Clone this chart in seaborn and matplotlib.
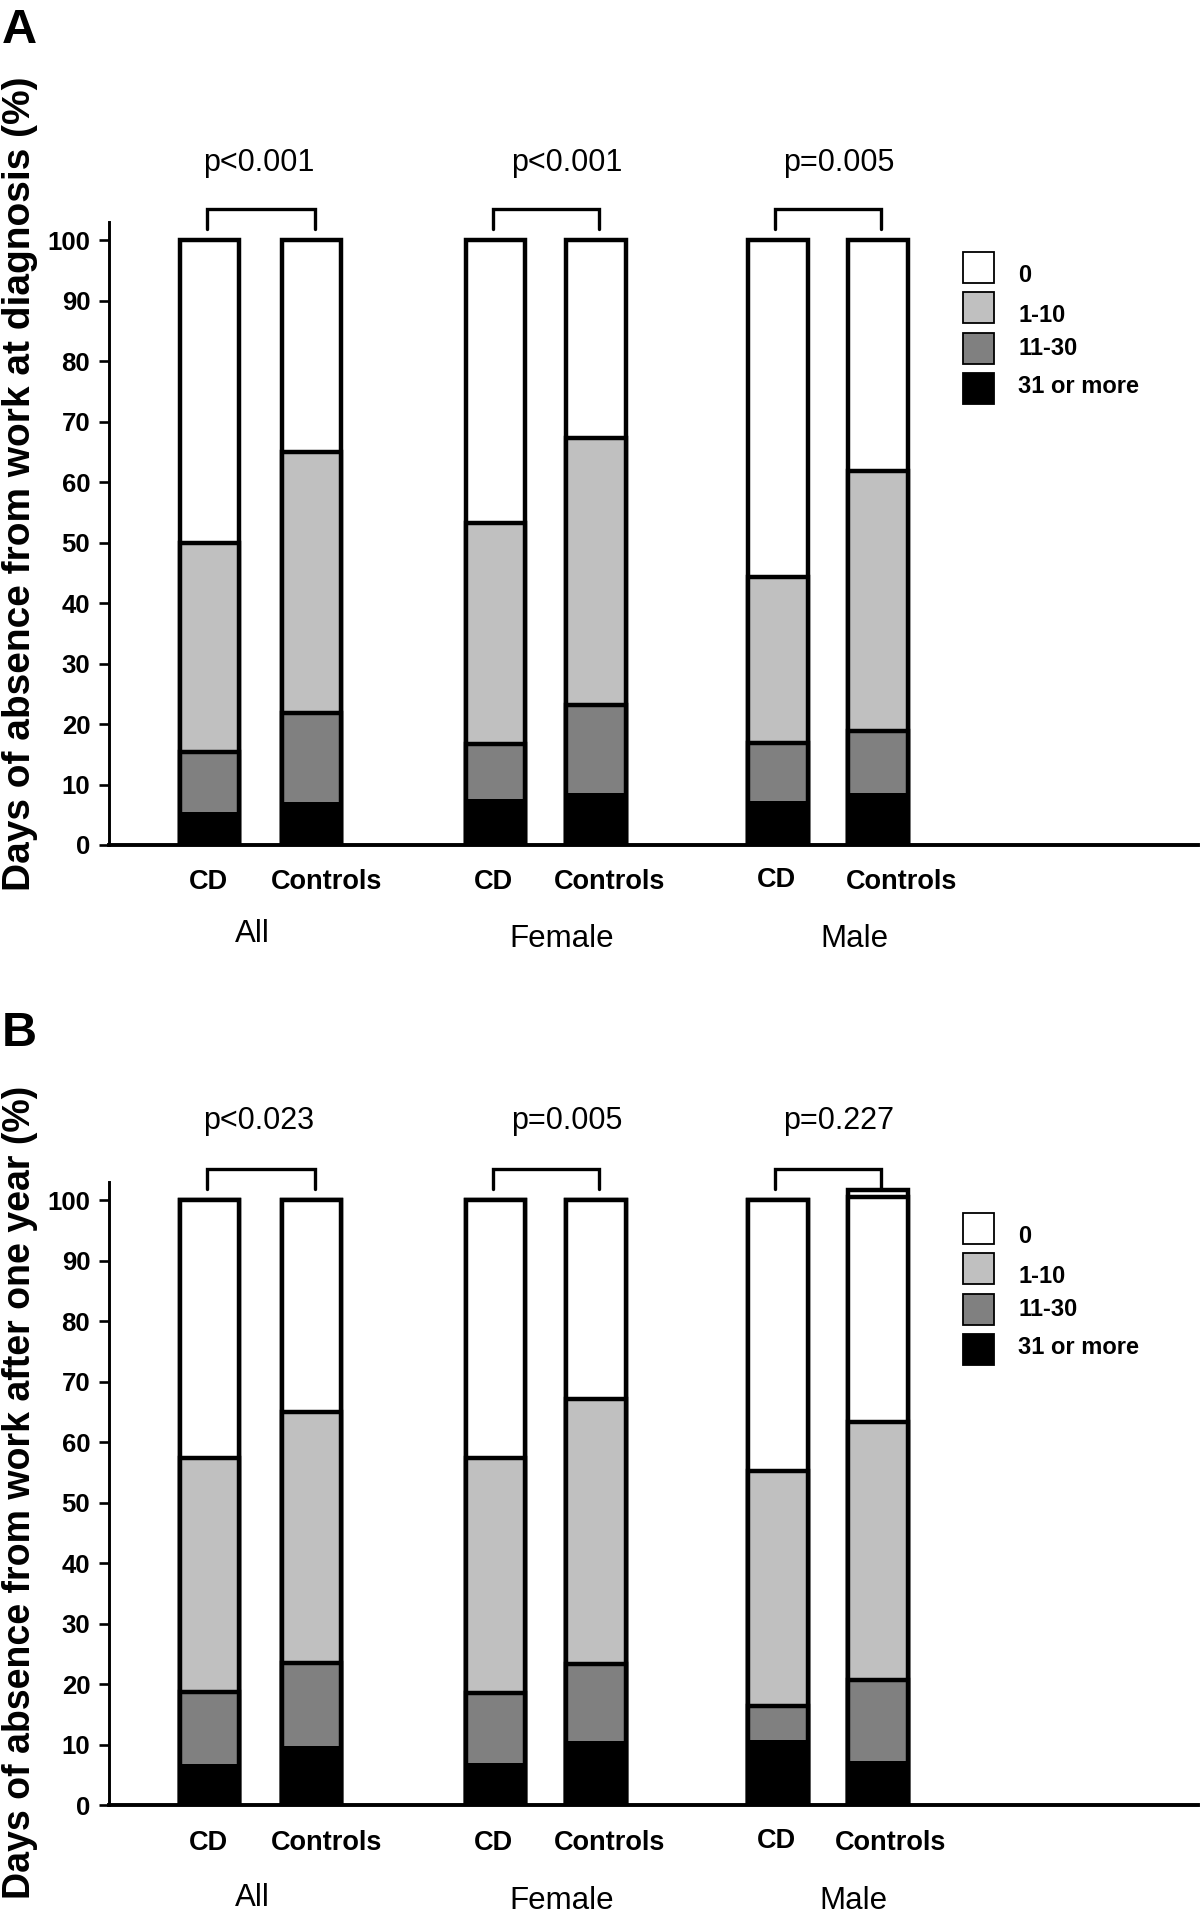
import numpy as np
import pandas as pd
import matplotlib
matplotlib.use("Agg")
import matplotlib.pyplot as plt
import seaborn as sns
from matplotlib.patches import Rectangle

# ---------------- data ----------------
groups = ["All", "Female", "Male"]
bar_labels = ["CD", "Controls", "CD", "Controls", "CD", "Controls"]
legend_labels = ["0", "1-10", "11-30", "31 or more"]

# Panel A: days of absence at diagnosis (% per bar), segments bottom -> top
a_31plus = [5.4, 7.1, 7.6, 8.6, 7.3, 8.6]
a_11_30 = [10.0, 14.7, 9.1, 14.5, 9.6, 10.2]
a_1_10 = [34.6, 43.2, 36.6, 44.2, 27.4, 43.0]
a_0 = [50.0, 35.0, 46.7, 32.7, 55.7, 38.2]
a_pvalues = ["p<0.001", "p<0.001", "p=0.005"]

# Panel B: days of absence after one year (% per bar)
b_31plus = [6.8, 9.7, 6.9, 10.5, 10.8, 7.3]
b_11_30 = [11.8, 13.8, 11.6, 12.8, 5.6, 13.3]
b_1_10 = [38.8, 41.5, 38.8, 43.9, 38.8, 42.8]
b_0 = [42.6, 35.0, 42.7, 32.8, 44.8, 37.1]
b_extra = [0.0, 0.0, 0.0, 0.0, 0.0, 1.2]
b_pvalues = ["p<0.023", "p=0.005", "p=0.227"]

yticks = list(range(0, 101, 10))

# ---------------- layout ----------------
W, H = 1200, 1917
BAR_X = [209.6, 311.6, 495.5, 595.8, 777.8, 878.0]   # bar centres (axis x in px-like units)
COLORS = ["#000000", "#808080", "#c0c0c0", "#ffffff", "#ffffff"]
LEG_COLORS = ["#ffffff", "#c0c0c0", "#808080", "#000000"]
LEG_TEXT_OFF = [30, 30, 22, 20]
FONT = "Liberation Sans"

sns.set_theme(style="ticks")
plt.rcParams["font.family"] = [FONT, "DejaVu Sans"]

fig = plt.figure(figsize=(W / 100, H / 100), dpi=100)


def fx(x):
    return x / W


def fy(y):
    return 1 - y / H


def draw_panel(y0_px, top_px, layers, pvals, ylabel, ylabel_c, ylabel_size,
               letter, letter_base, p_base, lab_base, lab_x, grp_base, grp_x,
               leg_top):
    ax = fig.add_axes([fx(109), fy(y0_px), (1198 - 109) / W, (y0_px - top_px) / H])
    cum = np.cumsum(np.array(layers, dtype=float), axis=0)
    for i in reversed(range(len(layers))):
        df = pd.DataFrame({"x": BAR_X, "y": cum[i]})
        sns.barplot(data=df, x="x", y="y", native_scale=True, width=0.595,
                    color=COLORS[i], saturation=1, edgecolor="black",
                    linewidth=(0 if i == 0 else 3.2), errorbar=None, ax=ax)
    ax.set_xlim(109, 1198)
    ax.set_ylim(0, 103)
    ax.set_xlabel("")
    ax.set_ylabel("")
    ax.set_xticks([])
    ax.set_yticks(yticks)
    ax.set_yticklabels([str(t) for t in yticks], fontweight="bold", fontsize=18.5)
    ax.tick_params(axis="y", length=7.5, width=1.9, pad=6, direction="out", colors="black")
    for s in ["top", "right"]:
        ax.spines[s].set_visible(False)
    ax.spines["left"].set_linewidth(2.1)
    ax.spines["bottom"].set_linewidth(2.8)
    for s in ["left", "bottom"]:
        ax.spines[s].set_color("black")
    ax.set_facecolor("white")

    # significance brackets
    for g in range(3):
        x0 = BAR_X[2 * g] - 3
        x1 = BAR_X[2 * g + 1] + 3
        ax.plot([x0, x0, x1, x1], [101.8, 105.1, 105.1, 101.8], color="black",
                lw=2.4, clip_on=False, solid_joinstyle="miter")

    # p-values
    p_x = [259, 567, 839]
    for g in range(3):
        fig.text(fx(p_x[g]), fy(p_base), pvals[g], ha="center", va="baseline",
                 fontsize=22, color="black")

    # bar labels
    for i, lab in enumerate(bar_labels):
        fig.text(fx(lab_x[i]), fy(lab_base[i]), lab, ha="center", va="baseline",
                 fontsize=19.5, fontweight="bold", color="black")
    # group labels
    for g, name in enumerate(groups):
        fig.text(fx(grp_x[g]), fy(grp_base[g]), name, ha="center", va="baseline",
                 fontsize=22.5, color="black")

    # y label
    fig.text(fx(20), fy(ylabel_c), ylabel, rotation=90, ha="center",
             va="center", fontsize=ylabel_size, fontweight="bold", color="black")
    # panel letter
    fig.text(fx(2), fy(letter_base), letter, ha="left", va="baseline",
             fontsize=35, fontweight="bold", color="black")

    # legend (boxes with labels)
    for i, (lab, c) in enumerate(zip(legend_labels, LEG_COLORS)):
        top = leg_top + i * 40.3
        fig.patches.append(Rectangle((fx(963), fy(top + 31)), 31 / W, 31 / H,
                                     transform=fig.transFigure, facecolor=c,
                                     edgecolor="black", linewidth=1.3))
        fig.text(fx(1018), fy(top + LEG_TEXT_OFF[i]), lab, ha="left", va="baseline",
                 fontsize=17, fontweight="bold", color="black")
    return ax


draw_panel(845, 222, [a_31plus, a_11_30, a_1_10, a_0],
           a_pvalues, "Days of absence from work at diagnosis (%)", 484, 28,
           "A", 43,
           p_base=171,
           lab_base=[889, 889, 889, 889, 887, 889],
           lab_x=[208, 327, 493, 610, 776, 902],
           grp_base=[942, 947, 947], grp_x=[252, 562, 854],
           leg_top=252)

draw_panel(1805, 1182, [b_31plus, b_11_30, b_1_10, b_0, b_extra],
           b_pvalues, "Days of absence from work after one year (%)", 1492, 27,
           "B", 1046,
           p_base=1129,
           lab_base=[1850, 1850, 1850, 1850, 1848, 1850],
           lab_x=[208, 327, 493, 610, 776, 891],
           grp_base=[1906, 1909, 1909], grp_x=[252, 562, 853],
           leg_top=1213)

fig.savefig("out.png", dpi=100, facecolor="white")
